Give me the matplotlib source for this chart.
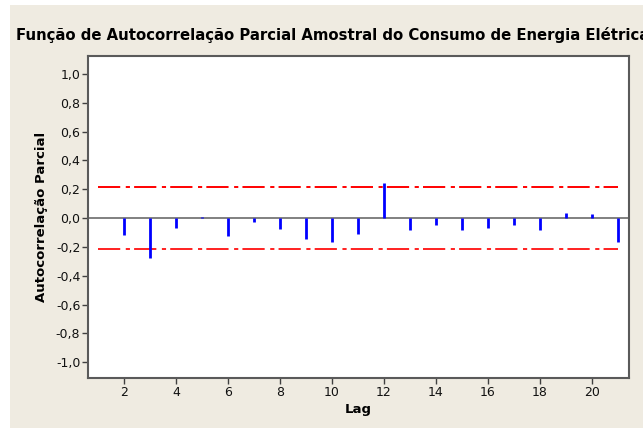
import matplotlib
matplotlib.use("Agg")
import matplotlib.pyplot as plt
from matplotlib.patches import Rectangle

# Partial autocorrelation by lag
lags = [2, 3, 4, 5, 6, 7, 8, 9, 10, 11, 12, 13, 14, 15, 16, 17, 18, 19, 20, 21]
pacf = [-0.118, -0.275, -0.072, 0.005, -0.127, -0.026, -0.074, -0.144, -0.167, -0.110,
        0.243, -0.081, -0.049, -0.081, -0.067, -0.049, -0.081, 0.033, 0.026, -0.167]
limit = 0.214  # significance bound
limit_span = [1, 21]
y_ticks = [-1.0, -0.8, -0.6, -0.4, -0.2, 0.0, 0.2, 0.4, 0.6, 0.8, 1.0]
x_ticks = [2, 4, 6, 8, 10, 12, 14, 16, 18, 20]

plt.rcParams['lines.scale_dashes'] = False
bg = "#EFEBE1"

fig = plt.figure(figsize=(6.43, 4.28), dpi=100)
fig.patch.set_facecolor("white")
# beige panel behind the chart
fig.patches.append(Rectangle((10 / 643, 0), 1 - 10 / 643, 1 - 5 / 428,
                             transform=fig.transFigure, facecolor=bg,
                             edgecolor="none", zorder=-5))

ax = fig.add_axes([88 / 643, 1 - 378 / 428, (629 - 88) / 643, (378 - 56) / 428])
ax.set_facecolor("white")

ax.axhline(0, color="#808080", lw=1.4, zorder=1)
ax.vlines(lags, 0, pacf, colors="#0000FF", lw=2.0, zorder=3)
dash = (0, (16.0, 4.0, 3.0, 3.0))
ax.plot(limit_span, [limit, limit], color="#FF0000", lw=1.4, ls=dash, zorder=2)
ax.plot(limit_span, [-limit, -limit], color="#FF2020", lw=1.4, ls=dash, zorder=2)

ax.set_xlim(0.62, 21.42)
ax.set_ylim(-1.11, 1.125)
ax.set_yticks(y_ticks)
ax.set_yticklabels([f"{v:.1f}".replace(".", ",") for v in y_ticks])
ax.set_xticks(x_ticks)
ax.tick_params(axis="both", direction="out", length=4, width=1, color="#404040",
               labelsize=9, pad=1.5, labelcolor="#111111")

for s in ax.spines.values():
    s.set_color("#5A5A5A")
    s.set_linewidth(1.5)

ax.set_xlabel("Lag", fontsize=9.5, fontweight="bold", labelpad=3)
ax.set_ylabel("Autocorrelação Parcial", fontsize=9.5, fontweight="bold", labelpad=6)

fig.text(16 / 643, 1 - 35 / 428,
         "Função de Autocorrelação Parcial Amostral do Consumo de Energia Elétrica",
         fontsize=10.7, fontweight="bold", va="center", ha="left")

fig.savefig("out.png", dpi=100, facecolor="white")
